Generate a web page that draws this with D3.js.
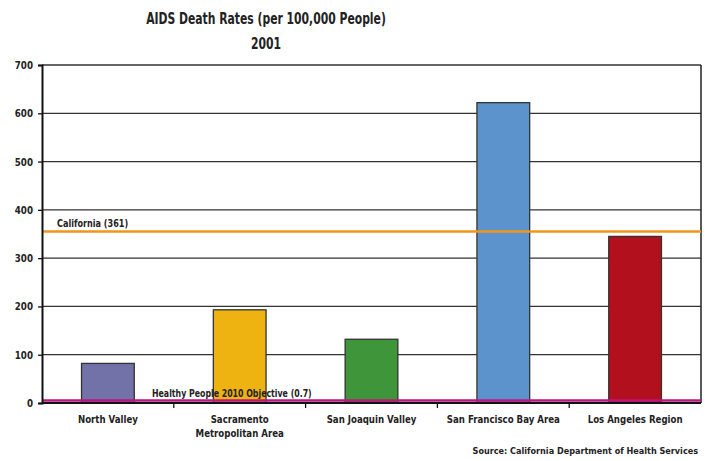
<!DOCTYPE html>
<html><head><meta charset="utf-8">
<script src="https://cdn.jsdelivr.net/npm/d3@7"></script>
<style>
body{margin:0;background:#fff;}
text{font-family:"DejaVu Sans Condensed","Liberation Sans Narrow",sans-serif;font-weight:bold;fill:#222;}
</style></head>
<body><svg id="c" width="707" height="461"></svg>
<script>
const categories = ["North Valley", "Sacramento\nMetropolitan Area", "San Joaquin Valley", "San Francisco Bay Area", "Los Angeles Region"];
const values = [82, 193, 132, 622, 345];
const colors = ["#7272a8", "#eeb310", "#3f963a", "#5c93cd", "#b1101c"];
const yTicks = [0, 100, 200, 300, 400, 500, 600, 700];
const californiaRate = 355;
const californiaLabel = "California (361)";
const objectiveRate = 5;
const objectiveLabel = "Healthy People 2010 Objective (0.7)";
const titleLines = ["AIDS Death Rates (per 100,000 People)", "2001"];
const source = "Source: California Department of Health Services";

const svg = d3.select("#c");
const m = {l: 42, r: 6, t: 65, b: 58};
const W = 707, H = 461;
const x = d3.scaleBand().domain(categories).range([m.l, W - m.r]).paddingInner(0).paddingOuter(0);
const y = d3.scaleLinear().domain([0, 700]).range([H - m.b, m.t]);

// squeeze a text element to the narrower width of the original's condensed face
function squeeze(sel, ratio) {
  sel.each(function(){
    const w = this.getComputedTextLength();
    d3.select(this).attr("textLength", w*ratio).attr("lengthAdjust","spacingAndGlyphs");
  });
}

// title
const tt = svg.selectAll("text.title").data(titleLines).join("text").attr("class","title")
  .attr("x", 266).attr("y", (d,i) => 24 + i*25).attr("text-anchor","middle")
  .style("font-size","16px").text(d => d);
squeeze(tt, 0.75);

// gridlines
svg.append("g").selectAll("line").data(yTicks.filter(d => d>0)).join("line")
  .attr("x1", m.l).attr("x2", W - m.r).attr("y1", d => y(d)).attr("y2", d => y(d))
  .attr("stroke", "#333").attr("stroke-width", 1.3);

// right border
svg.append("line").attr("x1", W-m.r).attr("x2", W-m.r).attr("y1", y(700)).attr("y2", y(0))
  .attr("stroke","#222").attr("stroke-width",1.5);

// bars
const bw = x.bandwidth()*0.4;
svg.append("g").selectAll("rect").data(values).join("rect")
  .attr("x", (d,i) => x(categories[i]) + (x.bandwidth()-bw)/2)
  .attr("width", bw)
  .attr("y", d => y(d)).attr("height", d => y(0) - y(d))
  .attr("fill", (d,i) => colors[i]).attr("stroke", "#333").attr("stroke-width", 1.3);

// California line
svg.append("line").attr("x1", m.l).attr("x2", W-m.r).attr("y1", y(californiaRate)).attr("y2", y(californiaRate))
  .attr("stroke", "#f0961e").attr("stroke-width", 2.5);
squeeze(svg.append("text").attr("x", 57).attr("y", y(californiaRate) - 5).style("font-size","10px").text(californiaLabel), 0.9);

// Objective line
svg.append("line").attr("x1", m.l).attr("x2", W-m.r).attr("y1", y(objectiveRate)).attr("y2", y(objectiveRate))
  .attr("stroke", "#b8177f").attr("stroke-width", 2.5);
squeeze(svg.append("text").attr("x", 152).attr("y", y(objectiveRate) - 4).style("font-size","10px").text(objectiveLabel), 0.87);

// y axis
const ya = svg.append("g").attr("transform", `translate(${m.l},0)`)
  .call(d3.axisLeft(y).tickValues(yTicks).tickSize(4).tickPadding(5));
ya.select(".domain").attr("stroke","#111").attr("stroke-width",2);
ya.selectAll(".tick line").attr("stroke","#111").attr("stroke-width",1.3);
ya.selectAll("text").style("font-size","11px").attr("font-family",null).attr("fill","#222");
squeeze(ya.selectAll("text"), 0.88);

// x axis
const xa = svg.append("g").attr("transform", `translate(0,${y(0)})`);
xa.append("line").attr("x1", m.l).attr("x2", W-m.r).attr("stroke","#111").attr("stroke-width",2);
xa.selectAll("line.tk").data(categories.slice(1)).join("line").attr("class","tk")
  .attr("x1", d => x(d)).attr("x2", d => x(d)).attr("y1", 0).attr("y2", 5)
  .attr("stroke","#111").attr("stroke-width",1.3);
xa.selectAll("text.cat").data(categories).join("text").attr("class","cat")
  .attr("text-anchor","middle").style("font-size","11px")
  .attr("transform", d => `translate(${x(d) + x.bandwidth()/2},0)`)
  .each(function(d){
    const t = d3.select(this);
    d.split("\n").forEach((ln,i) => t.append("tspan").attr("x",0).attr("y", 20 + i*14).text(ln));
  });
xa.selectAll("text.cat tspan").each(function(){
  const w = this.getComputedTextLength();
  d3.select(this).attr("textLength", w*0.87).attr("lengthAdjust","spacingAndGlyphs");
});

// source
svg.append("text").attr("x", 698).attr("y", 454).attr("text-anchor","end").style("font-size","9px").text(source);
</script></body></html>
